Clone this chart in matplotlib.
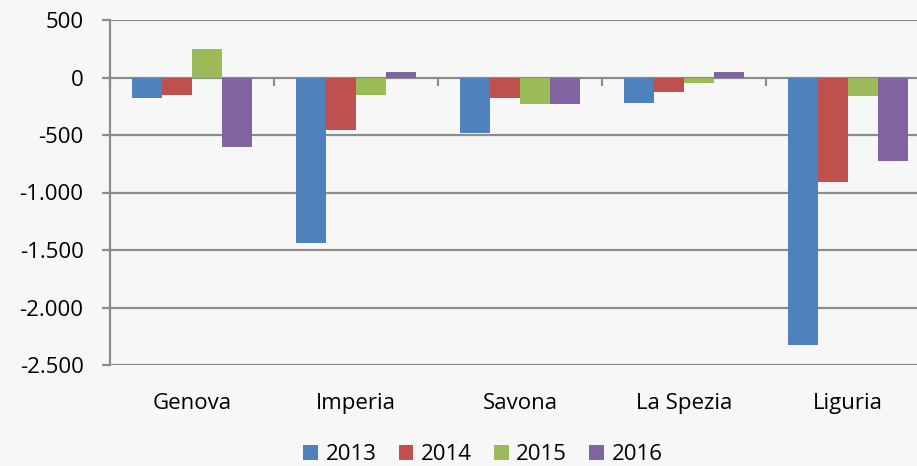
import matplotlib.pyplot as plt
import numpy as np
from matplotlib.ticker import FuncFormatter

# Dati
province = ["Genova", "Imperia", "Savona", "La Spezia", "Liguria"]
anni = ["2013", "2014", "2015", "2016"]
v2013 = [-180, -1440, -480, -225, -2325]
v2014 = [-150, -455, -175, -125, -905]
v2015 = [250, -150, -230, -45, -165]
v2016 = [-600, 45, -230, 45, -725]
colori = ["#4F81BD", "#C0504D", "#9BBB59", "#8064A2"]

plt.rcParams['font.family'] = ['Open Sans', 'DejaVu Sans']
grigio = "#8c8c8c"

fig = plt.figure(figsize=(9.17, 4.66), dpi=100, facecolor="#f7f7f7")
ax = fig.add_axes([110 / 917, 1 - 365 / 466, 820 / 917, 345 / 466])
ax.set_facecolor("none")

x = np.arange(len(province))
w = 1 / 5.5
for i, (serie, anno) in enumerate(zip([v2013, v2014, v2015, v2016], anni)):
    ax.bar(x + (i - 1.5) * w, serie, w, color=colori[i], label=anno, zorder=3)

ax.set_xlim(-0.5, 4.5)
ax.set_ylim(-2500, 500)
ax.set_yticks(np.arange(-2500, 501, 500))
ax.yaxis.set_major_formatter(FuncFormatter(lambda v, p: f"{v:,.0f}".replace(",", ".")))
ax.grid(axis="y", color=grigio, linewidth=1.6, zorder=0)
ax.set_xticks(x)
ax.set_xticklabels(province)
ax.tick_params(axis="x", length=0, pad=20, labelsize=16)
ax.tick_params(axis="y", length=6, width=1.6, color=grigio, pad=13, labelsize=16)

for s in ["top", "right", "bottom"]:
    ax.spines[s].set_visible(False)
ax.spines["left"].set_color(grigio)
ax.spines["left"].set_linewidth(1.6)

# asse delle categorie sullo zero
zero = ax.secondary_xaxis(2500 / 3000)
zero.xaxis.set_ticks_position("bottom")
zero.set_xticks(np.arange(-0.5, 5, 1))
zero.set_xticklabels([""] * 6)
zero.tick_params(axis="x", direction="out", length=6, width=1.6, color=grigio)
zero.spines["top"].set_visible(False)
zero.spines["bottom"].set_color(grigio)
zero.spines["bottom"].set_linewidth(1.6)

fig.legend(loc="center", bbox_to_anchor=(483 / 917, 1 - 455 / 466), ncol=4, frameon=False,
           fontsize=16, handlelength=0.65, handleheight=0.65, handletextpad=0.35,
           columnspacing=1.0)

fig.savefig("out.png", dpi=100, facecolor=fig.get_facecolor())
